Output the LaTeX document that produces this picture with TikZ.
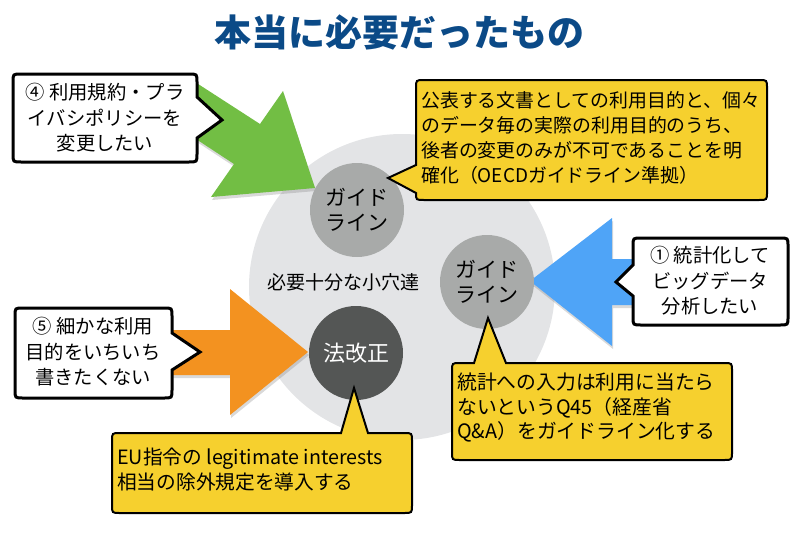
\documentclass[tikz,border=0pt]{standalone}
\usepackage{fontspec}
\setmainfont{Noto Sans CJK JP}
\usetikzlibrary{shadows}
\definecolor{titleblue}{RGB}{11,74,135}
\definecolor{biggray}{RGB}{227,228,230}
\definecolor{midgray}{RGB}{168,170,169}
\definecolor{darkgray}{RGB}{84,86,85}
\definecolor{arrgreen}{RGB}{114,190,68}
\definecolor{arrblue}{RGB}{79,164,247}
\definecolor{arrorange}{RGB}{243,146,32}
\definecolor{callyellow}{RGB}{246,208,46}
\tikzset{
  wcall/.style={draw=black, fill=white, line width=3pt, line join=miter},
  ycall/.style={draw=black, fill=callyellow, line width=2pt, line join=miter},
  bigarrow/.style={drop shadow={opacity=0.3, shadow xshift=1pt, shadow yshift=-3pt}},
  calltext/.style={font=\fontsize{19.3}{25.5}\selectfont, inner sep=0pt},
  circtext/.style={circle, inner sep=0pt, minimum size=94pt, font=\fontsize{21}{25}\selectfont, align=center}
}
\begin{document}
\begin{tikzpicture}[x=1pt,y=-1pt]
\useasboundingbox (0,0) rectangle (800,543);
% title
\node[font=\fontsize{37}{40}\selectfont\bfseries, text=titleblue, inner sep=0pt] (title) at (399,32) {本当に必要だったもの};
% big circle
\node[circle, fill=biggray, minimum size=306pt, inner sep=0pt] (big) at (402,287) {};
\node[font=\fontsize{19}{22}\selectfont, inner sep=0pt] (holes) at (343,282) {必要十分な小穴達};
% arrows
\fill[arrgreen, bigarrow] (195,82) -- (260,124) -- (283,91) -- (315,188) -- (211,197) -- (234,164) -- (167,120) -- cycle;
\fill[arrblue, bigarrow] (700,259) -- (612,259) -- (612,218) -- (530,281) -- (612,346) -- (612,305) -- (700,305) -- cycle;
\fill[arrorange, bigarrow] (100,330) -- (230,330) -- (230,289) -- (308,352) -- (230,415) -- (230,375) -- (100,375) -- cycle;
% small circles
\node[circtext, fill=midgray] (gl1) at (357,210) {ガイド\\ライン};
\node[circtext, fill=midgray] (gl2) at (487,282) {ガイド\\ライン};
\node[circtext, fill=darkgray, text=white, font=\fontsize{22}{25}\selectfont] (law) at (356,353) {法改正};
% white callouts
\draw[wcall] (100,74) -- (189,74) .. controls (197,74) .. (197,82) -- (197,97) -- (222,120) -- (197,138) -- (197,154) .. controls (197,162) .. (189,162) -- (21,162) .. controls (13,162) .. (13,154) -- (13,82) .. controls (13,74) .. (21,74) -- cycle;
\node[calltext, align=center] (t4) at (105,118) {④ 利用規約・プラ\\イバシポリシーを\\変更したい};
\draw[wcall] (700,238) -- (780,238) .. controls (788,238) .. (788,246) -- (788,317) .. controls (788,325) .. (780,325) -- (641,325) .. controls (633,325) .. (633,317) -- (633,296) -- (616,282) -- (633,265) -- (633,246) .. controls (633,238) .. (641,238) -- cycle;
\node[calltext, align=center] (t1) at (710,281) {① 統計化して\\ビッグデータ\\分析したい};
\draw[wcall] (90,308) -- (164,308) .. controls (172,308) .. (172,316) -- (172,333) -- (200,352) -- (172,370) -- (172,390) .. controls (172,398) .. (164,398) -- (23,398) .. controls (15,398) .. (15,390) -- (15,316) .. controls (15,308) .. (23,308) -- cycle;
\node[calltext, align=center] (t5) at (93,352) {⑤ 細かな利用\\目的をいちいち\\書きたくない};
% yellow callouts
\draw[ycall] (600,80) -- (759,80) .. controls (767,80) .. (767,88) -- (767,192) .. controls (767,200) .. (759,200) -- (424,200) .. controls (416,200) .. (416,193) -- (388,178) -- (416,165) -- (416,88) .. controls (416,80) .. (424,80) -- cycle;
\node[calltext, font=\fontsize{18.9}{25}\selectfont, align=left, anchor=west] (ty1) at (421,138) {公表する文書としての利用目的と、個々\\のデータ毎の実際の利用目的のうち、\\後者の変更のみが不可であることを明\\確化（OECDガイドライン準拠）};
\draw[ycall] (600,363) -- (724,363) .. controls (732,363) .. (732,371) -- (732,452) .. controls (732,460) .. (724,460) -- (460,460) .. controls (452,460) .. (452,452) -- (452,371) .. controls (452,363) .. (460,363) -- (474,363) -- (488,318) -- (506,363) -- cycle;
\node[calltext, font=\fontsize{19.8}{24.5}\selectfont, align=left, anchor=west] (ty2) at (457,408) {統計への入力は利用に当たら\\ないというQ45（経産省\\Q\&A）をガイドライン化する};
\draw[ycall] (200,433) -- (341,433) -- (354,388) -- (368,433) -- (404,433) .. controls (412,433) .. (412,441) -- (412,505) .. controls (412,513) .. (404,513) -- (120,513) .. controls (112,513) .. (112,505) -- (112,441) .. controls (112,433) .. (120,433) -- cycle;
\node[calltext, font=\fontsize{19.7}{25}\selectfont, align=left, anchor=west] (ty3) at (117,470) {EU指令の legitimate interests\\相当の除外規定を導入する};
\end{tikzpicture}
\end{document}
